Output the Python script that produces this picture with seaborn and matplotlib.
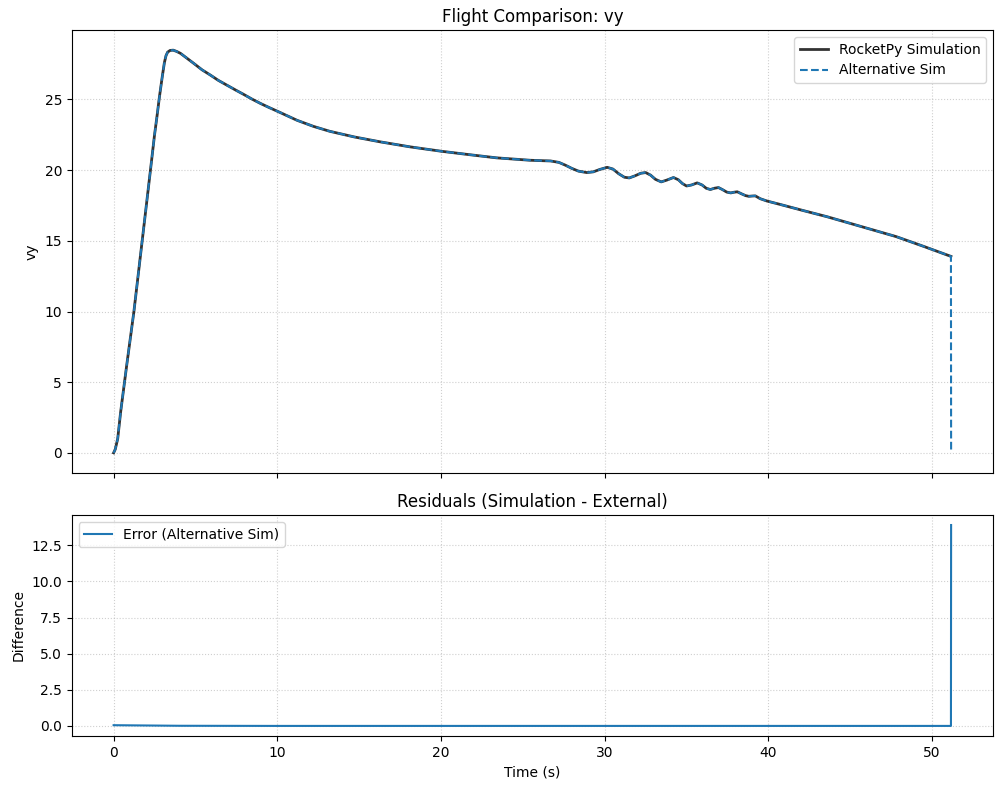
import numpy as np
import pandas as pd
import seaborn as sns
import matplotlib
matplotlib.use('Agg')
import matplotlib.pyplot as plt

# vy
sim_time = [0.0, 0.1, 0.25, 0.43, 0.8, 1.24, 1.76, 2.26, 2.5, 2.66, 2.8, 2.97, 3.1, 3.2,
            3.3, 3.45, 3.64, 3.85, 4.09, 4.5, 4.9, 5.4, 5.92, 6.4, 6.94, 7.45, 7.96, 8.45,
            8.97, 9.5, 10.0, 10.6, 11.2, 12.2, 13.2, 14.7, 16.3, 18.1, 20.0, 21.7, 23.4,
            25.45, 26.7, 27.2, 27.6, 28.0, 28.4, 28.9, 29.3, 29.7, 30.15, 30.5, 30.85,
            31.2, 31.5, 31.85, 32.2, 32.5, 32.8, 33.1, 33.45, 33.8, 34.2, 34.5, 34.75,
            35.0, 35.3, 35.65, 35.95, 36.2, 36.45, 36.7, 36.95, 37.2, 37.45, 37.7, 37.9,
            38.1, 38.35, 38.6, 38.8, 39.0, 39.2, 39.5, 39.9, 40.7, 42.1, 43.6, 45.7,
            47.8, 49.5, 51.15]
sim_vy = [0.0, 0.25, 1.0, 2.9, 6.2, 10.0, 15.15, 20.1, 22.5, 23.9, 25.2, 26.6, 27.6, 28.1,
          28.35, 28.47, 28.49, 28.4, 28.26, 27.9, 27.55, 27.1, 26.72, 26.35, 26.0, 25.67,
          25.35, 25.03, 24.72, 24.43, 24.17, 23.85, 23.53, 23.1, 22.75, 22.35, 22.0, 21.65,
          21.34, 21.1, 20.87, 20.7, 20.65, 20.55, 20.35, 20.12, 19.93, 19.83, 19.88, 20.05,
          20.2, 20.08, 19.75, 19.5, 19.45, 19.6, 19.78, 19.83, 19.65, 19.35, 19.17, 19.3,
          19.48, 19.32, 19.05, 18.88, 18.95, 19.1, 18.95, 18.72, 18.63, 18.72, 18.77,
          18.62, 18.45, 18.39, 18.44, 18.47, 18.33, 18.2, 18.15, 18.17, 18.18, 17.98,
          17.82, 17.58, 17.15, 16.7, 16.0, 15.3, 14.6, 13.9]

# external sim follows the same curve and drops to zero at its last sample
alt_time = sim_time + [51.16]
alt_vy = sim_vy + [0.0]

# residuals (simulation - external)
res_time = [0.0, 1.0, 2.0, 3.0, 4.0, 10.0, 20.0, 30.0, 40.0, 51.15, 51.16]
res_vals = [0.05, 0.04, 0.03, 0.02, 0.01, 0.0, 0.0, 0.0, 0.0, 0.0, 13.9]

fig, (ax1, ax2) = plt.subplots(2, 1, figsize=(10.02, 7.9), sharex=True,
                               gridspec_kw={'height_ratios': [443, 221]})

sns.lineplot(x=sim_time, y=sim_vy, ax=ax1, color='k', alpha=0.8, linewidth=2,
             label='RocketPy Simulation', estimator=None, sort=False)
sns.lineplot(x=alt_time, y=alt_vy, ax=ax1, color='tab:blue', linestyle='--', linewidth=1.5,
             label='Alternative Sim', estimator=None, sort=False)
ax1.set_title('Flight Comparison: vy')
ax1.set_ylabel('vy')
ax1.set_xlabel('')
ax1.grid(True, linestyle=':', alpha=0.6)
ax1.legend(loc='upper right')

sns.lineplot(x=res_time, y=res_vals, ax=ax2, color='tab:blue', linewidth=1.5,
             label='Error (Alternative Sim)', estimator=None, sort=False)
ax2.set_title('Residuals (Simulation - External)')
ax2.set_ylabel('Difference')
ax2.set_xlabel('Time (s)')
ax2.grid(True, linestyle=':', alpha=0.6)
ax2.legend(loc='upper left')

fig.subplots_adjust(left=0.0716, right=0.991, top=0.962, bottom=0.0684, hspace=0.1265)
fig.savefig('out.png', dpi=100)
